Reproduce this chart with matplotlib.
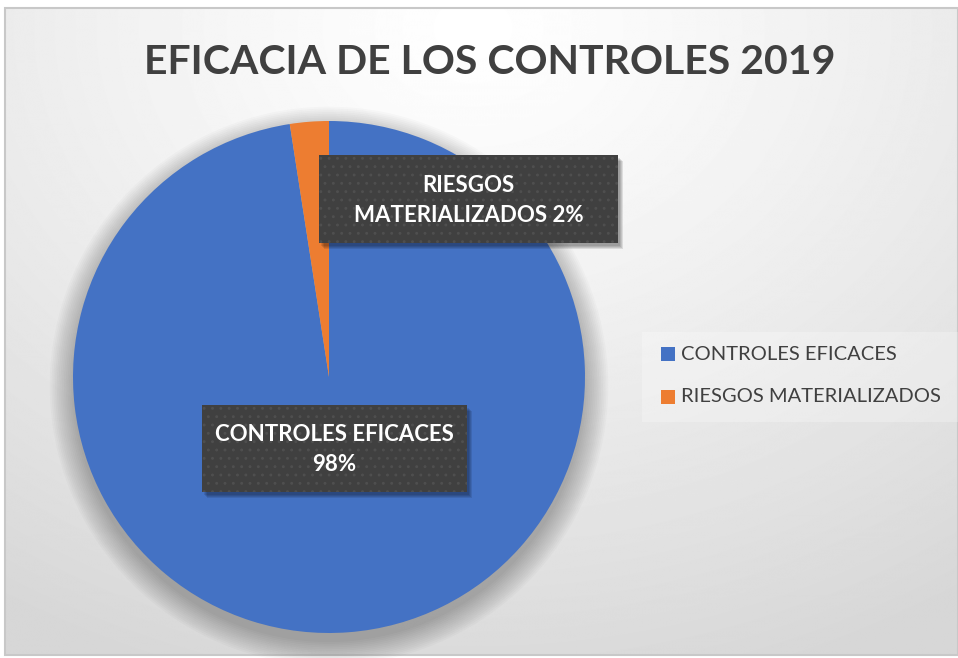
import matplotlib

matplotlib.use("Agg")
import matplotlib.pyplot as plt
import numpy as np
from matplotlib.patches import Circle, Rectangle

TITLE = "EFICACIA DE LOS CONTROLES 2019"
CATEGORIES = ["CONTROLES EFICACES", "RIESGOS MATERIALIZADOS"]
VALUES = [97.55, 2.45]
LABEL_LINES = [["CONTROLES EFICACES", "98%"], ["RIESGOS", "MATERIALIZADOS 2%"]]
COLORS = ["#4472C4", "#ED7D31"]

W, H = 958, 658
FONT = "Lato"
TEXT_DARK = "#404040"

fig = plt.figure(figsize=(W / 100, H / 100), dpi=100, facecolor="white")

# background panel with soft gradient
bg = fig.add_axes([0, 0, 1, 1], zorder=0)
bg.set_xlim(0, W)
bg.set_ylim(H, 0)
bg.axis("off")
yy, xx = np.mgrid[0:H, 0:W]
dist = np.sqrt(((xx - 470) / 1.25) ** 2 + (yy - 20) ** 2)
shade = np.clip(dist / 700, 0, 1) ** 1.2
grad = 1.0 - 0.16 * shade
bg.imshow(grad, cmap="gray", vmin=0, vmax=1, extent=(5, W, 655, 8), zorder=0, interpolation="bilinear")
bg.add_patch(Rectangle((5, 8), W - 5, 647, fill=False, edgecolor="#c8c8c8", linewidth=1.5, zorder=1))
# faint legend plate
bg.add_patch(Rectangle((642, 332), 316, 90, facecolor="white", alpha=0.25, edgecolor="none", zorder=1))

fig.text(490 / W, 1 - 62 / H, TITLE, ha="center", va="center", fontsize=29.5,
         fontweight="bold", color=TEXT_DARK, family=FONT, zorder=5)

# pie
cx, cy, r = 329, 377, 256
ax = fig.add_axes([(cx - r) / W, (H - cy - r) / H, 2 * r / W, 2 * r / H], zorder=2)
ax.axis("off")
wedges, _ = ax.pie(VALUES, colors=COLORS, startangle=90, counterclock=False, radius=1,
                   wedgeprops=dict(linewidth=0))
for w in wedges:
    w.set_zorder(2)
for i in range(14):
    ax.add_patch(Circle((0.0, -0.035), 1.0 + 0.007 * i, facecolor="black", alpha=0.018,
                        edgecolor="none", zorder=0, clip_on=False))
ax.set_xlim(-1, 1)
ax.set_ylim(-1, 1)

# data label boxes (pixel coords of box: left, top, right, bottom)
ov = fig.add_axes([0, 0, 1, 1], zorder=3)
ov.set_xlim(0, W)
ov.set_ylim(H, 0)
ov.axis("off")
plt.rcParams["hatch.color"] = "#4f4f4f"
plt.rcParams["hatch.linewidth"] = 0.9
boxes = [(202, 405, 467, 492), (319, 155, 618, 243)]
for (x0, y0, x1, y1), lines in zip(boxes, LABEL_LINES):
    for k in range(4):
        ov.add_patch(Rectangle((x0 + 2 + k, y0 + 3 + k), x1 - x0, y1 - y0, facecolor="black",
                               alpha=0.10, edgecolor="none", zorder=1))
    ov.add_patch(Rectangle((x0, y0), x1 - x0, y1 - y0, facecolor="#404040", edgecolor="none", zorder=2))
    ov.add_patch(Rectangle((x0, y0), x1 - x0, y1 - y0, facecolor="none", edgecolor="#4f4f4f",
                           linewidth=0, hatch="..", zorder=3))
    ymid = (y0 + y1) / 2
    ov.text((x0 + x1) / 2, ymid - 14, lines[0], ha="center", va="center", fontsize=16,
            fontweight="bold", color="white", family=FONT, zorder=4)
    ov.text((x0 + x1) / 2, ymid + 16, lines[1], ha="center", va="center", fontsize=16,
            fontweight="bold", color="white", family=FONT, zorder=4)

# legend
for i, (name, col) in enumerate(zip(CATEGORIES, COLORS)):
    ly = 354 + 43 * i
    ov.add_patch(Rectangle((661, ly - 7), 14, 14, facecolor=col, edgecolor="none", zorder=4))
    ov.text(681, ly, name, ha="left", va="center", fontsize=14.5, color=TEXT_DARK,
            family=FONT, zorder=4)

fig.savefig("out.png", dpi=100, facecolor="white")
